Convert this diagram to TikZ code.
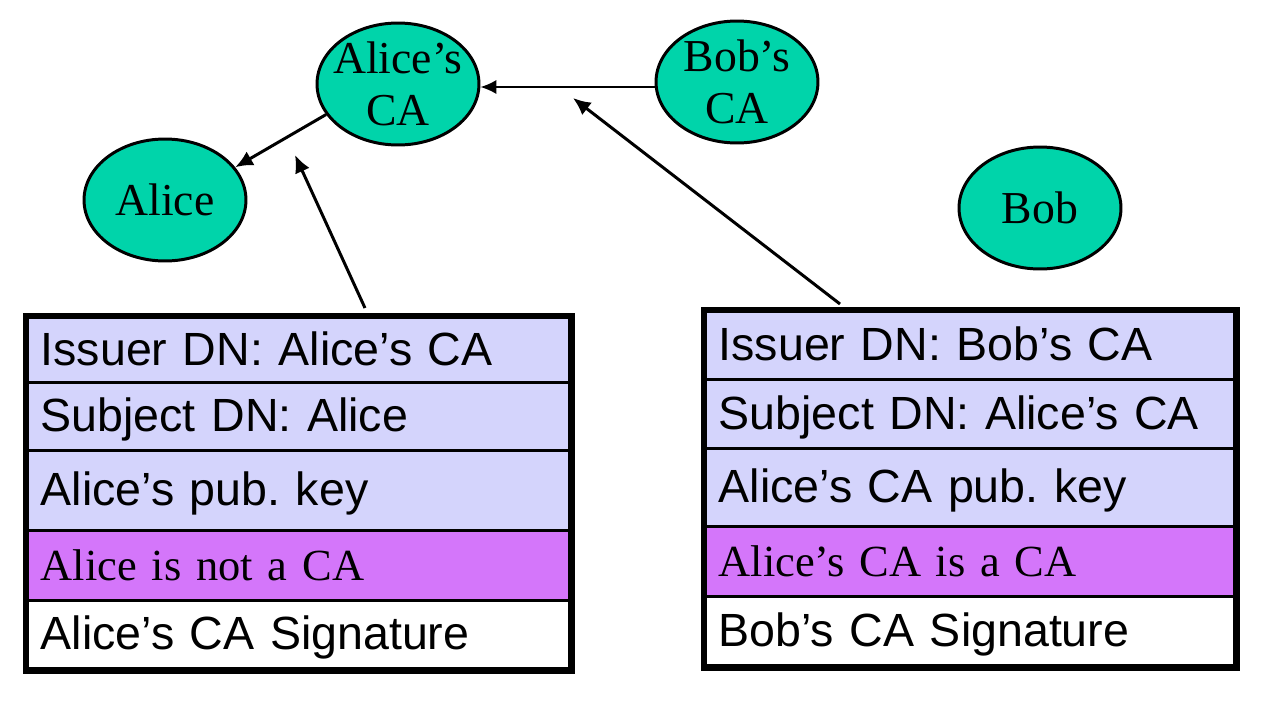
\documentclass[tikz,border=0pt]{standalone}
\usepackage{fontspec}
\setmainfont{Liberation Serif}
\setsansfont{Liberation Sans}
\usetikzlibrary{arrows.meta,shapes.geometric}
\definecolor{nodeteal}{RGB}{0,212,170}
\definecolor{lav}{RGB}{212,212,252}
\definecolor{mag}{RGB}{212,118,250}
\frenchspacing
\begin{document}
\begin{tikzpicture}[x=0.02cm,y=-0.02cm,
  ca/.style={ellipse, draw, line width=1.7pt, fill=nodeteal, minimum width=3.24cm, minimum height=2.44cm, inner sep=-0.4cm, align=center, font=\fontsize{26}{30}\selectfont},
  row/.style={rectangle, draw, line width=1.9pt, anchor=north west, inner xsep=0.26cm, inner ysep=0pt, align=left, text height=20pt, text depth=3pt},
  lrow/.style={row, text width=10.32cm},
  rrow/.style={row, text width=10.06cm},
  dn/.style={fill=lav, font=\sffamily\fontsize{26.5}{30}\selectfont},
  ext/.style={fill=mag, font=\fontsize{25.3}{30}\selectfont},
  sig/.style={fill=white, font=\sffamily\fontsize{26.5}{30}\selectfont},
  thin arrow/.style={line width=1pt, -{Latex[length=9pt,width=8pt]}},
  thick arrow/.style={line width=1.7pt, -{Latex[length=10pt,width=9pt]}},
  outer/.style={line width=2.8pt}]
\useasboundingbox (0,0) rectangle (1272,704);
% entities
\node[ca] (aca) at (398,84) {Alice's\\CA};
\node[ca] (bca) at (737,82) {Bob's\\CA};
\node[ca] (alice) at (165,200) {Alice};
\node[ca] (bob) at (1040,208) {Bob};
% left certificate
\node[lrow, dn, minimum height=1.30cm] (l1) at (26,316) {Issuer DN: Alice's CA};
\node[lrow, dn, minimum height=1.36cm] (l2) at (26,381) {Subject DN: Alice};
\node[lrow, dn, minimum height=1.60cm] (l3) at (26,449) {Alice's pub. key};
\node[lrow, ext, minimum height=1.40cm] (l4) at (26,529) {Alice is not a CA};
\node[lrow, sig, minimum height=1.36cm] (l5) at (26,599) {Alice's CA Signature};
\draw[outer] ([shift={(-1,-1)}]l1.north west) rectangle ([shift={(1,1)}]l5.south east);
% right certificate
\node[rrow, dn, minimum height=1.36cm] (r1) at (704,310) {Issuer DN: Bob's CA};
\node[rrow, dn, minimum height=1.38cm] (r2) at (704,378) {Subject DN: Alice's CA};
\node[rrow, dn, minimum height=1.56cm] (r3) at (704,447) {Alice's CA pub. key};
\node[rrow, ext, minimum height=1.40cm] (r4) at (704,525) {Alice's CA is a CA};
\node[rrow, sig, minimum height=1.38cm] (r5) at (704,595) {Bob's CA Signature};
\draw[outer] ([shift={(-1,-1)}]r1.north west) rectangle ([shift={(1,1)}]r5.south east);
% connectors
\coordinate (ltip) at (295,155);
\coordinate (rtip) at (573,98);
\coordinate (lfoot) at (365,308);
\coordinate (rfoot) at (840,304);
\draw[thin arrow] (bca.west |- 0,87) -- (aca.east |- 0,87);
\draw[thick arrow] (aca.203) -- (alice.25);
\draw[thick arrow] (lfoot) -- (ltip);
\draw[thick arrow] (rfoot) -- (rtip);
\end{tikzpicture}
\end{document}
